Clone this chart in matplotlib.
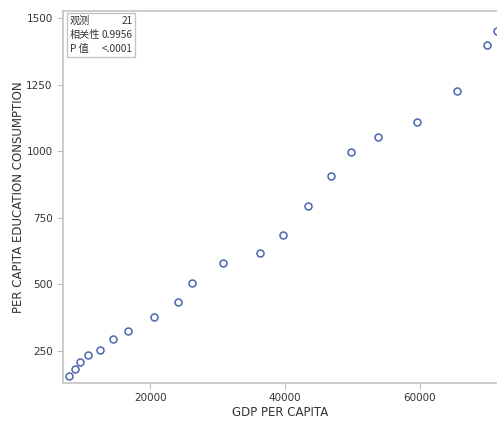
import matplotlib.pyplot as plt
from matplotlib.patches import Rectangle

# GDP per capita vs per-capita education consumption (21 observations)
gdp = [7910, 8710, 9500, 10690, 12470, 14400, 16730, 20540, 24100, 26240, 30740,
       36340, 39750, 43400, 46880, 49850, 53750, 59590, 65490, 69990, 71430]
edu = [157, 182, 208, 236, 254, 296, 324, 377, 434, 505, 579,
       617, 685, 793, 905, 996, 1054, 1110, 1224, 1400, 1451]

stat_names = ["观测", "相关性", "P 值"]
stat_values = ["21", "0.9956", "<.0001"]

W, H = 497, 421
fig = plt.figure(figsize=(W / 100, H / 100), dpi=100)
ax = fig.add_axes([63 / W, 1 - 383 / H, (W - 63) / W, (383 - 11) / H])

ax.plot(gdp, edu, 'o', mfc='none', mec='#4f6cb0', mew=1.15, ms=5, clip_on=True)

ax.set_xlim(7000, 71500)
ax.set_ylim(130, 1526)
ax.set_xticks([20000, 40000, 60000])
ax.set_yticks([250, 500, 750, 1000, 1250, 1500])

for s in ['left', 'bottom', 'top']:
    ax.spines[s].set_color('#c4c4c4')
    ax.spines[s].set_linewidth(1.2)
ax.spines['right'].set_visible(False)
ax.tick_params(colors='#bfbfbf', labelcolor='#333333', labelsize=7.5, length=4, width=0.8)

ax.set_xlabel('GDP PER CAPITA', fontsize=8.5, color='#333333', labelpad=2)
ax.set_ylabel('PER CAPITA EDUCATION CONSUMPTION', fontsize=8.5, color='#333333', labelpad=1)

# inset statistics box
fam = ['Noto Sans CJK SC', 'DejaVu Sans']
fig.patches.append(Rectangle((67 / W, 1 - 57 / H), 68 / W, 44 / H, transform=fig.transFigure,
                             fill=False, ec='#c4c4c4', lw=1.0))
rows_y = [20.5, 35, 49]
for name, val, yy in zip(stat_names, stat_values, rows_y):
    fig.text(69.5 / W, 1 - yy / H, name, family=fam, fontsize=7.3, color='#333333', va='center', ha='left')
    fig.text(133 / W, 1 - yy / H, val, family=fam, fontsize=7.3, color='#333333', va='center', ha='right')

fig.savefig('out.png', dpi=100)
